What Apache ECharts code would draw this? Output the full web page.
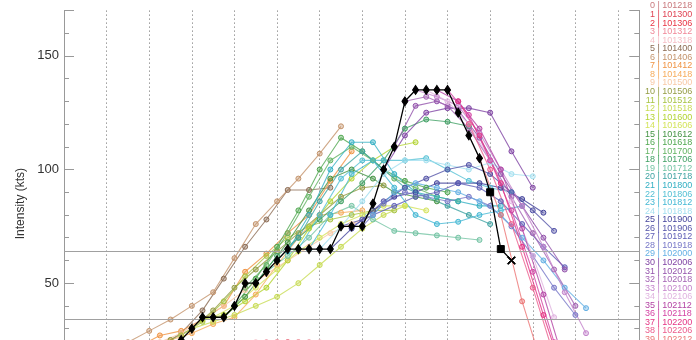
<!DOCTYPE html>
<html>
<head>
<meta charset="utf-8">
<script src="https://cdn.jsdelivr.net/npm/echarts@6/dist/echarts.min.js"></script>
<style>
  html, body { margin: 0; padding: 0; background: #fff; }
  #chart { width: 696px; height: 340px; }
</style>
</head>
<body>
<div id="chart"></div>
<script>
// forecast init times (MMDDHH) -> legend rows
const initLabels = [
  '101218', '101300', '101306', '101312', '101318', '101400', '101406', '101412', '101418', '101500',
  '101506', '101512', '101518', '101600', '101606', '101612', '101618', '101700', '101706', '101712',
  '101718', '101800', '101806', '101812', '101818', '101900', '101906', '101912', '101918', '102000',
  '102006', '102012', '102018', '102100', '102106', '102112', '102118', '102200', '102206', '102212'
];
// hour of first point of each forecast (hours from 101218)
const fcStart = [
  0, 6, 12, 18, 24, 30, 36, 42, 48, 54,
  60, 66, 72, 78, 84, 90, 96, 102, 108, 114,
  120, 126, 132, 138, 144, 150, 156, 162, 168, 174,
  180, 186, 192, 198, 204, 210, 216, 222, 228, 234
];
// forecast intensity (kts), one value every 12 h from fcStart
const fcKts = [
  [12, 14, 16, 18, 18, 20, 20, 21, 22, 22, 23],
  [12, 15, 17, 18, 20, 20, 21, 22, 22, 23, 24],
  [14, 15, 18, 20, 20, 21, 22, 23, 23, 24, 24],
  [15, 18, 18, 20, 21, 22, 22, 23, 24, 24, 24],
  [16, 18, 20, 20, 22, 22, 23, 24, 24, 24, 24],
  [14, 18, 22, 28, 38, 52, 66, 78, 91, 91, 92],
  [24, 29, 34, 40, 46, 61, 76, 86, 96, 107, 119],
  [22, 27, 29, 34, 40, 55, 63, 72, 80, 95, 108],
  [22, 25, 28, 32, 35, 45, 58, 70, 80, 81, 82],
  [24, 28, 34, 40, 47, 54, 60, 66, 72, 76, 80],
  [25, 30, 38, 48, 56, 64, 72, 80, 88, 92, 93],
  [27, 33, 42, 53, 62, 70, 75, 78, 80, 82, 82],
  [30, 33, 36, 40, 44, 50, 58, 66, 74, 80, 84],
  [34, 36, 42, 48, 60, 74, 86, 96, 104, 110, 112],
  [35, 40, 48, 56, 64, 70, 76, 80, 84, 84, 82],
  [35, 44, 56, 68, 82, 96, 100, 96, 90, 88, 86],
  [40, 52, 66, 82, 100, 114, 108, 100, 95, 92, 90],
  [48, 58, 72, 88, 104, 110, 104, 96, 92, 88, 86],
  [50, 62, 70, 78, 86, 94, 104, 118, 122, 121, 119],
  [55, 62, 70, 80, 84, 78, 73, 72, 71, 70, 69],
  [60, 70, 86, 100, 108, 100, 92, 88, 84, 80, 76],
  [64, 80, 100, 112, 112, 98, 90, 88, 86, 84, 84],
  [65, 80, 96, 104, 104, 104, 105, 100, 95, 92, 90],
  [65, 80, 98, 104, 92, 80, 76, 77, 80, 82, 84],
  [65, 75, 86, 98, 104, 104, 102, 100, 103, 98, 97],
  [65, 74, 82, 88, 90, 94, 94, 94, 92, 87, 81],
  [75, 78, 86, 92, 96, 100, 102, 98, 90, 82, 73],
  [75, 80, 84, 88, 90, 94, 92, 86, 76, 66, 57],
  [75, 85, 90, 88, 86, 88, 84, 75, 62, 48, 36],
  [80, 90, 94, 92, 90, 86, 80, 70, 60, 48, 39],
  [100, 115, 125, 127, 127, 125, 108, 92],
  [110, 128, 130, 126, 114, 98, 84, 70, 56],
  [130, 132, 128, 118, 104, 88, 72, 56, 40],
  [135, 132, 128, 116, 100, 84, 66, 46, 28],
  [135, 130, 120, 104, 86, 62, 35],
  [135, 130, 118, 100, 74, 45, 14],
  [135, 124, 104, 82, 55, 24],
  [130, 115, 94, 66, 36, 8],
  [120, 100, 76, 48, 18],
  [105, 80, 42, 12]
];
// best track
const bestHours = [54, 60, 66, 72, 78, 84, 90, 96, 102, 108, 114, 120, 126, 132, 138, 144, 150, 156,
  162, 168, 174, 180, 186, 192, 198, 204, 210, 216, 222, 228, 234, 240, 246, 252];
const bestKts = [20, 22, 25, 30, 35, 35, 35, 40, 50, 50, 55, 60, 65, 65, 65, 65, 65, 75,
  75, 75, 85, 100, 110, 130, 135, 135, 135, 135, 125, 115, 105, 90, 65, 60];
const thresholds = [34, 64];
const yTickLabels = [50, 100, 150];

const palette = [
  '#c97a7e', '#e04454', '#e83444', '#f08898', '#f6c0c8', '#8c6c54', '#c4946c', '#f09444', '#f6ac5c', '#f8c8a4',
  '#949c44', '#a8c444', '#c8dc54', '#b4d434', '#d4e45c', '#449444', '#50a850', '#64b464', '#40a064', '#74c4a4',
  '#40a4a4', '#34b0c4', '#54c0d4', '#44b8d4', '#a4e0f0', '#44449c', '#5454a8', '#6060b8', '#7878c8', '#64b0e4',
  '#8044a4', '#9454ac', '#a464b4', '#c484cc', '#e0b4e0', '#b444a4', '#d444a4', '#e43484', '#ec5c8c', '#ec7474'
];
const FONT = '"Liberation Sans", Arial, sans-serif';

function rgba(hex, a) {
  const n = parseInt(hex.slice(1), 16);
  return 'rgba(' + (n >> 16) + ',' + ((n >> 8) & 255) + ',' + (n & 255) + ',' + a + ')';
}

const chart = echarts.init(document.getElementById('chart'), null, { renderer: 'canvas' });

const series = fcKts.map((vals, i) => ({
  name: initLabels[i],
  type: 'line',
  data: vals.map((v, k) => [fcStart[i] + 12 * k, v]),
  symbol: 'circle',
  symbolSize: 5,
  lineStyle: { color: palette[i], width: 1.1, opacity: 0.8 },
  itemStyle: { color: rgba(palette[i], 0.4), borderColor: palette[i], borderWidth: 1 },
  z: 3,
  silent: true
}));

// best track, squares and a cross at the end
const crossPath = 'path://M1,0L5,4L9,0L10,1L6,5L10,9L9,10L5,6L1,10L0,9L4,5L0,1Z';
series.push({
  name: 'best',
  type: 'line',
  data: bestHours.map((h, k) => {
    const item = { value: [h, bestKts[k]] };
    if (h === 240 || h === 246) { item.symbol = 'rect'; item.symbolSize = 7; }
    if (h === 252) { item.symbol = crossPath; item.symbolSize = 8; }
    return item;
  }),
  symbol: 'diamond',
  symbolSize: [6, 9],
  lineStyle: { color: '#000', width: 1.3 },
  itemStyle: { color: '#000', borderColor: '#000' },
  z: 6,
  silent: true
});

// 34 / 64 kt lines
series.push({
  type: 'line',
  data: [],
  silent: true,
  z: 1,
  markLine: {
    silent: true,
    symbol: 'none',
    animation: false,
    label: { show: false },
    lineStyle: { color: '#a0a0a0', width: 1.2, type: 'solid' },
    data: thresholds.map(t => ({ yAxis: t }))
  }
});

// legend on the right
const legendEls = [];
initLabels.forEach((lab, i) => {
  const y = 6 + 8.55 * i;
  legendEls.push({
    type: 'text', x: 655, y: y, silent: true,
    style: { text: String(i), fill: palette[i], font: '9px ' + FONT, textAlign: 'right', textVerticalAlign: 'middle' }
  });
  legendEls.push({
    type: 'text', x: 657.5, y: y, silent: true,
    style: { text: '| ' + lab, fill: palette[i], font: '9px ' + FONT, textAlign: 'left', textVerticalAlign: 'middle' }
  });
});

const axisGray = '#999';
const yBase = { type: 'value', min: 0, max: 170, splitLine: { show: false } };

const option = {
  animation: false,
  backgroundColor: '#fff',
  grid: { left: 64, top: 10.4, width: 575.3, height: 386.4, containLabel: false, outerBoundsMode: 'none' },
  xAxis: [
    {
      type: 'value', position: 'bottom', min: 0, max: 324, interval: 24,
      axisLine: { show: false }, axisTick: { show: false }, axisLabel: { show: false },
      splitLine: { show: true, lineStyle: { color: '#9a9a9a', width: 1, type: [1.5, 2.5] } }
    },
    {
      type: 'value', position: 'top', min: 0, max: 324, interval: 6,
      axisLine: { show: true, lineStyle: { color: axisGray } },
      axisTick: { show: true, inside: true, length: 5, lineStyle: { color: axisGray } },
      axisLabel: { show: false }, splitLine: { show: false }
    }
  ],
  yAxis: [
    Object.assign({}, yBase, {
      position: 'left', interval: 50,
      name: 'Intensity (kts)', nameLocation: 'middle', nameGap: 34,
      nameTextStyle: { fontFamily: FONT, fontSize: 12, color: '#333' },
      axisLine: { show: true, lineStyle: { color: axisGray } },
      axisTick: { show: true, inside: true, length: 10, lineStyle: { color: axisGray } },
      axisLabel: {
        show: true, margin: 5, fontFamily: FONT, fontSize: 13, color: '#333',
        formatter: v => (yTickLabels.indexOf(v) >= 0 ? String(v) : '')
      }
    }),
    Object.assign({}, yBase, {
      position: 'left', interval: 10,
      axisLine: { show: false },
      axisTick: { show: true, inside: true, length: 5, lineStyle: { color: axisGray } },
      axisLabel: { show: false }
    }),
    Object.assign({}, yBase, {
      position: 'right', interval: 50,
      axisLine: { show: true, lineStyle: { color: axisGray } },
      axisTick: { show: true, inside: true, length: 10, lineStyle: { color: axisGray } },
      axisLabel: { show: false }
    }),
    Object.assign({}, yBase, {
      position: 'right', interval: 10,
      axisLine: { show: false },
      axisTick: { show: true, inside: true, length: 5, lineStyle: { color: axisGray } },
      axisLabel: { show: false }
    })
  ],
  graphic: legendEls,
  series: series
};

chart.setOption(option);
</script>
</body>
</html>
